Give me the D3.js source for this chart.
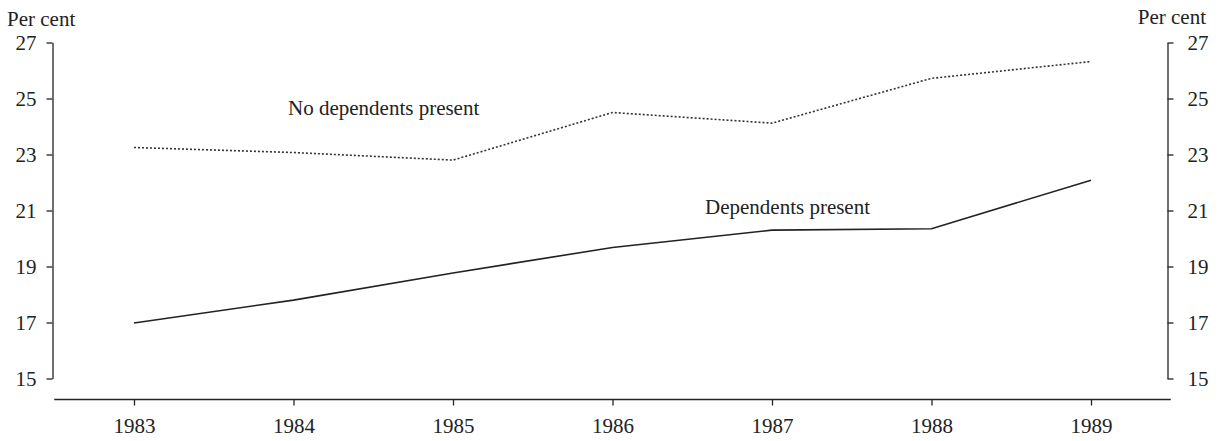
<!DOCTYPE html>
<html>
<head>
<meta charset="utf-8">
<script src="https://cdn.jsdelivr.net/npm/d3@7"></script>
<style>
  html, body { margin: 0; padding: 0; background: #fff; }
  svg { display: block; }
  text { font-family: "Liberation Serif", "DejaVu Serif", serif; fill: #222; }
</style>
</head>
<body>
<div id="chart"></div>
<script>
const years = [1983, 1984, 1985, 1986, 1987, 1988, 1989];
const noDependents = [23.25, 23.07, 22.8, 24.5, 24.12, 25.72, 26.32];
const dependents = [16.98, 17.8, 18.77, 19.68, 20.3, 20.35, 22.08];
const yTicks = [15, 17, 19, 21, 23, 25, 27];
const seriesLabels = ["No dependents present", "Dependents present"];
const unitLabel = "Per cent";

const W = 1225, H = 441;
const svg = d3.select("#chart").append("svg").attr("width", W).attr("height", H);

const x = d3.scaleLinear().domain([1983, 1989]).range([134, 1091]);
const y = d3.scaleLinear().domain([15, 27]).range([378.5, 42.5]);

const fs = 21;
const ink = "#222";

// Left axis
const leftAxis = d3.axisLeft(y).tickValues(yTicks).tickSize(6).tickSizeOuter(0).tickPadding(10);
const gl = svg.append("g").attr("transform", "translate(52.5,0)").call(leftAxis);
// Right axis
const rightAxis = d3.axisRight(y).tickValues(yTicks).tickSize(6).tickSizeOuter(0).tickPadding(14);
const gr = svg.append("g").attr("transform", "translate(1167.5,0)").call(rightAxis);

[gl, gr].forEach(g => {
  g.selectAll("path.domain").attr("stroke", ink).attr("stroke-width", 1.3);
  g.selectAll(".tick line").attr("stroke", ink).attr("stroke-width", 1.3);
  g.selectAll(".tick text").style("font-size", fs + "px").style("font-family", '"Liberation Serif", serif').attr("fill", ink);
});

// Bottom axis
const bottomAxis = d3.axisBottom(x).tickValues(years).tickFormat(d3.format("d")).tickSize(6).tickSizeOuter(0).tickPadding(13);
const gb = svg.append("g").attr("transform", "translate(0,399.5)").call(bottomAxis);
gb.select("path.domain").remove();
gb.selectAll(".tick line").attr("stroke", ink).attr("stroke-width", 1.3);
gb.selectAll(".tick text").style("font-size", fs + "px").style("font-family", '"Liberation Serif", serif').attr("fill", ink);
gb.append("line")
  .attr("x1", x(1982.5)).attr("x2", x(1989.5))
  .attr("y1", 0).attr("y2", 0)
  .attr("stroke", ink).attr("stroke-width", 1.3);

// Unit labels
svg.append("text").attr("x", 7).attr("y", 26).style("font-size", fs + "px").text(unitLabel);
svg.append("text").attr("x", 1206).attr("y", 24).attr("text-anchor", "end").style("font-size", fs + "px").text(unitLabel);

// Lines
const line = d3.line().x((d, i) => x(years[i])).y(d => y(d));

svg.append("path").datum(noDependents)
  .attr("d", line).attr("fill", "none")
  .attr("stroke", "#333").attr("stroke-width", 1.6)
  .attr("stroke-dasharray", "2,2");

svg.append("path").datum(dependents)
  .attr("d", line).attr("fill", "none")
  .attr("stroke", "#222").attr("stroke-width", 1.6);

// Series labels
svg.append("text").attr("x", 288).attr("y", 115).style("font-size", "21px").text(seriesLabels[0]);
svg.append("text").attr("x", 705).attr("y", 214).style("font-size", "21px").text(seriesLabels[1]);
</script>
</body>
</html>
